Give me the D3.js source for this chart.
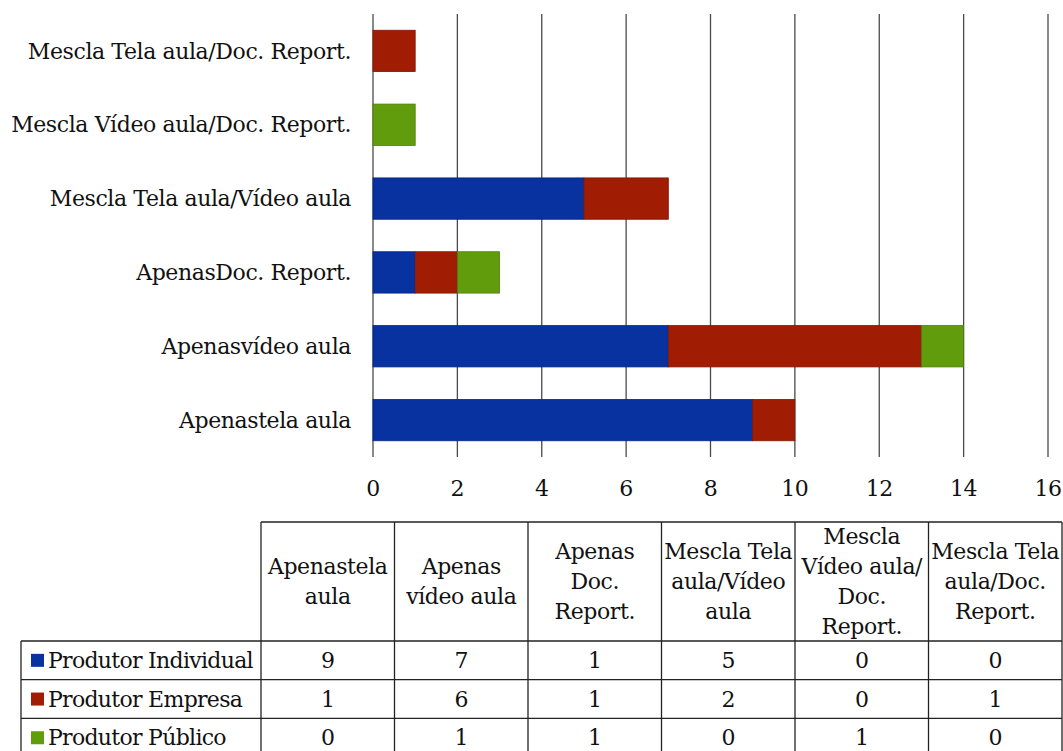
<!DOCTYPE html>
<html>
<head>
<meta charset="utf-8">
<script src="https://cdn.jsdelivr.net/npm/d3@7"></script>
<style>
  html, body { margin: 0; padding: 0; background: #fff; }
  svg { display: block; }
  text { font-family: "DejaVu Serif", serif; font-size: 22px; letter-spacing: -0.4px; fill: #111; }
  text.legend { letter-spacing: -0.7px; }
</style>
</head>
<body>
<svg id="chart" width="1063" height="751"></svg>
<script>
// ---- data ----
const categories = [
  "Apenastela aula",
  "Apenasvídeo aula",
  "ApenasDoc. Report.",
  "Mescla Tela aula/Vídeo aula",
  "Mescla Vídeo aula/Doc. Report.",
  "Mescla Tela aula/Doc. Report."
];
const headerLines = [
  ["Apenastela", "aula"],
  ["Apenas", "vídeo aula"],
  ["Apenas", "Doc.", "Report."],
  ["Mescla Tela", "aula/Vídeo", "aula"],
  ["Mescla", "Vídeo aula/", "Doc.", "Report."],
  ["Mescla Tela", "aula/Doc.", "Report."]
];
const seriesNames = ["Produtor Individual", "Produtor Empresa", "Produtor Público"];
const produtorIndividual = [9, 7, 1, 5, 0, 0];
const produtorEmpresa    = [1, 6, 1, 2, 0, 1];
const produtorPublico    = [0, 1, 1, 0, 1, 0];
const seriesColors = ["#07329f", "#a01c02", "#619c0c"];
const xTicks = [0, 2, 4, 6, 8, 10, 12, 14, 16];

// ---- build ----
const svg = d3.select("#chart");
const seriesValues = [produtorIndividual, produtorEmpresa, produtorPublico];
const rows = categories.map((c, i) => {
  const o = { cat: c };
  seriesNames.forEach((s, j) => o[s] = seriesValues[j][i]);
  return o;
});

const x = d3.scaleLinear().domain([0, 16]).range([373, 1048]);
const y = d3.scaleBand()
  .domain(categories.slice().reverse())
  .range([14, 457])
  .paddingInner(0.44)
  .paddingOuter(0.22);

// gridlines
svg.append("g").selectAll("line").data(xTicks).join("line")
  .attr("x1", d => x(d)).attr("x2", d => x(d))
  .attr("y1", 14).attr("y2", 457)
  .attr("stroke", "#4a4a4a").attr("stroke-width", 1.3);

// bars
const stack = d3.stack().keys(seriesNames)(rows);
const color = d3.scaleOrdinal().domain(seriesNames).range(seriesColors);
svg.append("g").selectAll("g").data(stack).join("g")
  .attr("fill", d => color(d.key))
  .attr("stroke", d => d3.color(color(d.key)).darker(0.6))
  .attr("stroke-width", 0.8)
  .selectAll("rect").data(d => d.filter(p => p[1] - p[0] > 0)).join("rect")
  .attr("x", d => x(d[0]))
  .attr("width", d => x(d[1]) - x(d[0]))
  .attr("y", d => y(d.data.cat))
  .attr("height", y.bandwidth());

// category labels
svg.append("g").selectAll("text").data(categories).join("text")
  .attr("x", 351)
  .attr("y", d => y(d) + y.bandwidth() / 2)
  .attr("dy", "0.35em")
  .attr("text-anchor", "end")
  .text(d => d);

// x tick labels
svg.append("g").selectAll("text").data(xTicks).join("text")
  .attr("x", d => x(d))
  .attr("y", 496)
  .attr("text-anchor", "middle")
  .text(d => d);

// ---- data table ----
const colX = d3.scaleBand().domain(categories).range([261, 1062]);
const tTop = 522, hBottom = 641, rowH = 38.7;
const legendLeft = 21;
const tBottom = hBottom + rowH * 3;
const tbl = svg.append("g").attr("stroke", "#222").attr("stroke-width", 1.3);

// horizontal lines
tbl.append("line").attr("x1", 261).attr("x2", 1062).attr("y1", tTop).attr("y2", tTop);
[0, 1, 2, 3].forEach(i => {
  tbl.append("line").attr("x1", legendLeft).attr("x2", 1062)
    .attr("y1", hBottom + i * rowH).attr("y2", hBottom + i * rowH);
});
// vertical lines
tbl.append("line").attr("x1", legendLeft).attr("x2", legendLeft).attr("y1", hBottom).attr("y2", tBottom);
categories.forEach(c => {
  tbl.append("line").attr("x1", colX(c)).attr("x2", colX(c)).attr("y1", tTop).attr("y2", tBottom);
});
tbl.append("line").attr("x1", 1062).attr("x2", 1062).attr("y1", tTop).attr("y2", tBottom);

// header text
const hMid = (tTop + hBottom) / 2;
categories.forEach((c, i) => {
  const lines = headerLines[i];
  lines.forEach((ln, k) => {
    svg.append("text")
      .attr("x", colX(c) + colX.bandwidth() / 2)
      .attr("y", hMid + (k - (lines.length - 1) / 2) * 30)
      .attr("dy", "0.35em")
      .attr("text-anchor", "middle")
      .text(ln);
  });
});

// legend column and values
seriesNames.forEach((s, j) => {
  const cy = hBottom + rowH * j + rowH / 2;
  svg.append("rect")
    .attr("x", 31).attr("y", cy - 6.5).attr("width", 13).attr("height", 13)
    .attr("fill", seriesColors[j]);
  svg.append("text").attr("class", "legend").attr("x", 48).attr("y", cy).attr("dy", "0.35em").text(s);
  categories.forEach((c, i) => {
    svg.append("text")
      .attr("x", colX(c) + colX.bandwidth() / 2)
      .attr("y", cy).attr("dy", "0.35em")
      .attr("text-anchor", "middle")
      .text(seriesValues[j][i]);
  });
});
</script>
</body>
</html>
